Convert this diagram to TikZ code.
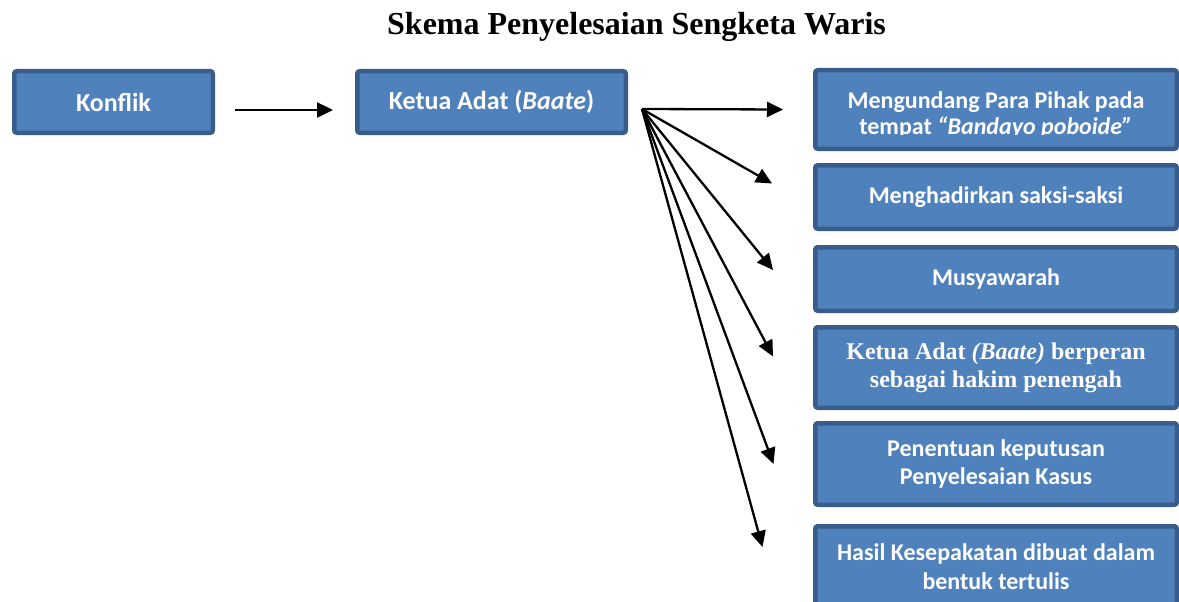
\documentclass[tikz,border=0pt]{standalone}
\usepackage{fontspec}
\setmainfont{Liberation Serif}
\newfontfamily\calibri{Carlito}
\usetikzlibrary{arrows.meta}

\definecolor{boxfill}{HTML}{4F81BD}
\definecolor{boxline}{HTML}{385D8A}

\begin{document}
\begin{tikzpicture}[x=1pt, y=-1pt]
% Define the styles
\tikzstyle{box} = [draw=boxline, fill=boxfill, line width=4.5pt, rounded corners=2.5pt, text=white, align=center, inner sep=0pt]
\tikzstyle{leftbox} = [box, minimum height=61.5pt, font=\calibri\bfseries\fontsize{26}{30}\selectfont]
\tikzstyle{stepbox} = [box, minimum width=361.5pt, font=\calibri\bfseries\fontsize{24}{28.7}\selectfont]
\tikzstyle{arr} = [-{Triangle[length=16pt, width=15pt]}, line width=2.3pt]

\useasboundingbox (0,0) rectangle (1179,602);

% Title
\node[font=\bfseries\fontsize{32}{36}\selectfont] (title) at (636.5,27) {Skema Penyelesaian Sengketa Waris};

% Left boxes
\node[leftbox, minimum width=198.5pt] (konflik) at (113.5,102) {Konflik};
\node[leftbox, minimum width=268.5pt] (ketua) at (491.5,102) {Ketua Adat (\textit{Baate})};

% Right boxes
\node[stepbox, minimum height=78.5pt] (undang) at (996,109.5) {};
\begin{scope}
\clip (815,70) rectangle (1177,134);
\node[stepbox, draw=none, fill=none, font=\calibri\bfseries\fontsize{24}{25.5}\selectfont] (undangtext) at (996,115) {Mengundang Para Pihak pada\\tempat \textit{“Bandayo poboide”}};
\end{scope}
\node[stepbox, minimum height=63.5pt] (saksi) at (996,197) {Menghadirkan saksi-saksi};
\node[stepbox, minimum height=63.5pt] (musyawarah) at (996,279) {Musyawarah};
\node[stepbox, minimum height=80.5pt, font=\bfseries\fontsize{24}{27.7}\selectfont] (hakim) at (996,367.5) {Ketua Adat \textit{(Baate)} berperan\\sebagai hakim penengah};
\node[stepbox, minimum height=81.5pt] (putusan) at (996,464) {Penentuan keputusan\\Penyelesaian Kasus};
\node[stepbox, minimum height=81.5pt] (hasil) at (996,567) {Hasil Kesepakatan dibuat dalam\\bentuk tertulis};

% Arrow ends
\coordinate (hub) at (642,109);
\coordinate (tip1) at (783,109.5);
\coordinate (tip2) at (772,183.5);
\coordinate (tip3) at (773,270);
\coordinate (tip4) at (773,356.5);
\coordinate (tip5) at (773.5,464);
\coordinate (tip6) at (762.5,547);

% Define the transitions
\draw[arr] ([xshift=20pt, yshift=-8pt]konflik.east) -- ([xshift=-22pt, yshift=-8pt]ketua.west);
\draw[arr] (hub) -- (tip1);
\draw[arr] (hub) -- (tip2);
\draw[arr] (hub) -- (tip3);
\draw[arr] (hub) -- (tip4);
\draw[arr] (hub) -- (tip5);
\draw[arr] (hub) -- (tip6);

\end{tikzpicture}
\end{document}
